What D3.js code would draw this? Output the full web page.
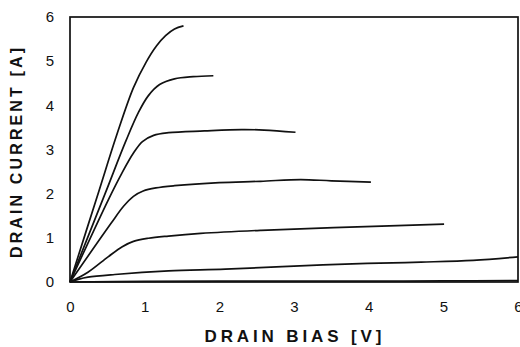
<!DOCTYPE html>
<html>
<head>
<meta charset="utf-8">
<script src="https://cdn.jsdelivr.net/npm/d3@7"></script>
<style>
  body { margin: 0; background: #fff; }
  svg { display: block; font-family: "Liberation Sans", Arial, sans-serif; }
</style>
</head>
<body>
<div id="chart"></div>
<script>
// curves: drain bias [V] and drain current [A]
var vd1 = [0, 0.376, 0.63, 0.85, 1.02, 1.16, 1.28, 1.4, 1.52],
    id1 = [0, 2.0, 3.35, 4.4, 4.98, 5.35, 5.58, 5.73, 5.8];
var vd2 = [0, 0.47, 0.75, 0.92, 1.05, 1.2, 1.4, 1.65, 1.92],
    id2 = [0, 2.0, 3.2, 3.85, 4.22, 4.47, 4.6, 4.65, 4.67];
var vd3 = [0, 0.51, 0.69, 0.85, 0.97, 1.12, 1.32, 1.8, 2.3, 2.6, 3.02],
    id3 = [0, 1.85, 2.45, 2.92, 3.18, 3.32, 3.38, 3.42, 3.45, 3.44, 3.39];
var vd4 = [0, 0.55, 0.72, 0.85, 0.98, 1.15, 1.4, 2.0, 2.55, 3.09, 3.5, 4.03],
    id4 = [0, 1.33, 1.72, 1.94, 2.06, 2.13, 2.18, 2.25, 2.28, 2.32, 2.29, 2.26];
var vd5 = [0, 0.24, 0.51, 0.7, 0.85, 1.05, 1.32, 1.75, 2.55, 3.53, 5.01],
    id5 = [0, 0.22, 0.57, 0.8, 0.92, 0.99, 1.04, 1.1, 1.17, 1.23, 1.31];
var vd6 = [0, 0.11, 0.24, 0.6, 1.32, 2.08, 3.0, 3.98, 4.7, 5.4, 6.0],
    id6 = [0, 0.06, 0.11, 0.17, 0.25, 0.29, 0.36, 0.42, 0.45, 0.49, 0.57];
var vd7 = [0, 1, 2, 3, 4, 5, 6],
    id7 = [0, 0.015, 0.02, 0.02, 0.02, 0.025, 0.03];

var xTicks = [0, 1, 2, 3, 4, 5, 6],
    yTicks = [0, 1, 2, 3, 4, 5, 6];

var curves = [[vd1, id1], [vd2, id2], [vd3, id3], [vd4, id4],
              [vd5, id5], [vd6, id6], [vd7, id7]];

var margin = {top: 17, right: 2, bottom: 65, left: 70},
    width = 520 - margin.left - margin.right,
    height = 347 - margin.top - margin.bottom;

var svg = d3.select("#chart")
  .append("svg")
    .attr("width", 520)
    .attr("height", 347)
  .append("g")
    .attr("transform", "translate(" + margin.left + "," + margin.top + ")");

var x = d3.scaleLinear().domain([0, 6]).range([0, width]);
var y = d3.scaleLinear().domain([0, 6]).range([height, 0]);

// axes, no tick marks
var xAxis = svg.append("g")
  .attr("transform", "translate(0," + height + ")")
  .call(d3.axisBottom(x).tickValues(xTicks).tickSize(0).tickPadding(19).tickFormat(d3.format("d")));
var yAxis = svg.append("g")
  .call(d3.axisLeft(y).tickValues(yTicks).tickSize(0).tickPadding(16).tickFormat(d3.format("d")));
svg.selectAll(".domain").remove();
svg.selectAll(".tick text")
  .style("font-size", "15px")
  .style("font-family", "'Liberation Sans', Arial, sans-serif")
  .attr("fill", "#111");

// frame
svg.append("rect")
  .attr("x", 0).attr("y", 0)
  .attr("width", width).attr("height", height)
  .attr("fill", "none")
  .attr("stroke", "#111")
  .attr("stroke-width", 1.7);

var line = d3.line()
  .x(function(d) { return x(d[0]); })
  .y(function(d) { return y(d[1]); })
  .curve(d3.curveCatmullRom.alpha(0.5));

svg.selectAll(".iv")
  .data(curves)
  .enter()
  .append("path")
    .attr("class", "iv")
    .attr("fill", "none")
    .attr("stroke", "#111")
    .attr("stroke-width", 1.7)
    .attr("d", function(c) { return line(d3.zip(c[0], c[1])); });

// axis titles
svg.append("text")
  .attr("x", 293 - margin.left)
  .attr("y", 342 - margin.top)
  .attr("text-anchor", "middle")
  .attr("textLength", 177)
  .attr("lengthAdjust", "spacing")
  .style("font-size", "17px")
  .style("font-weight", "bold")
  .attr("fill", "#111")
  .text("DRAIN BIAS [V]");

svg.append("text")
  .attr("transform", "translate(" + (22 - margin.left) + "," + (153 - margin.top) + ") rotate(-90)")
  .attr("text-anchor", "middle")
  .attr("textLength", 210)
  .attr("lengthAdjust", "spacing")
  .style("font-size", "16px")
  .style("font-weight", "bold")
  .attr("fill", "#111")
  .text("DRAIN CURRENT [A]");
</script>
</body>
</html>
